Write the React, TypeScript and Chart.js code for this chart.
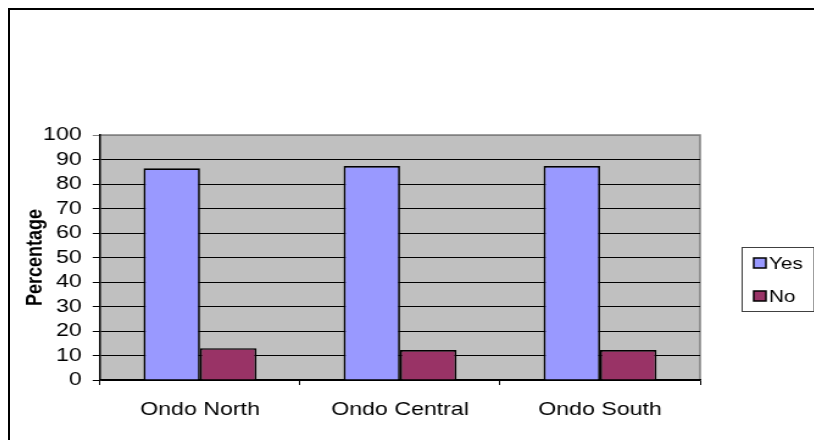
import React, { useEffect, useRef } from "react";
import { Chart, registerables } from "chart.js";

Chart.register(...registerables);

const categories = ["Ondo North", "Ondo Central", "Ondo South"];
const seriesLabels = ["Yes", "No"];
const yesValues = [86.4, 87.3, 87.3];
const noValues = [13.0, 12.2, 12.2];
const seriesColors = ["#9999FF", "#993366"];
const yMin = 0;
const yMax = 100;
const yStep = 10;
const yAxisTitle = "Percentage";

const FONT = "'Liberation Sans', Arial, sans-serif";
const CANVAS_W = 666;
const CANVAS_H = 430;
const STRETCH = 812 / CANVAS_W;

const plotBackground = {
  id: "plotBackground",
  beforeDraw(chart: any) {
    const { ctx, chartArea } = chart;
    const { left, top, right, bottom } = chartArea;
    ctx.save();
    ctx.fillStyle = "#c0c0c0";
    ctx.fillRect(left, top, right - left, bottom - top);
    ctx.strokeStyle = "#808080";
    ctx.lineWidth = 1.5;
    ctx.beginPath();
    ctx.moveTo(left, top);
    ctx.lineTo(right, top);
    ctx.lineTo(right, bottom);
    ctx.stroke();
    ctx.restore();
  },
};

const boxLegend = {
  id: "boxLegend",
  afterDraw(chart: any) {
    const { ctx } = chart;
    const bx = 600;
    const by = 237;
    ctx.save();
    ctx.fillStyle = "#ffffff";
    ctx.fillRect(bx, by, 59, 64);
    ctx.strokeStyle = "#404040";
    ctx.lineWidth = 1;
    ctx.strokeRect(bx + 0.5, by + 0.5, 59, 64);
    const rows = [253, 286];
    chart.data.datasets.forEach((ds: any, i: number) => {
      const cy = rows[i];
      ctx.fillStyle = ds.backgroundColor;
      ctx.fillRect(610, cy - 5, 10, 10);
      ctx.strokeStyle = "#000";
      ctx.lineWidth = 1.5;
      ctx.strokeRect(610, cy - 5, 10, 10);
      ctx.fillStyle = "#000";
      ctx.font = `17px ${FONT}`;
      ctx.textBaseline = "middle";
      ctx.textAlign = "left";
      ctx.fillText(ds.label, 622.5, cy + 1);
    });
    ctx.restore();
  },
};

export default function App() {
  const ref = useRef<HTMLCanvasElement | null>(null);

  useEffect(() => {
    if (!ref.current) return;
    const chart = new Chart(ref.current, {
      type: "bar",
      data: {
        labels: categories,
        datasets: [
          {
            label: seriesLabels[0],
            data: yesValues,
            backgroundColor: seriesColors[0],
            borderColor: "#000",
            borderWidth: 1.7,
          },
          {
            label: seriesLabels[1],
            data: noValues,
            backgroundColor: seriesColors[1],
            borderColor: "#000",
            borderWidth: 1.7,
          },
        ],
      },
      options: {
        responsive: false,
        animation: false,
        devicePixelRatio: 1,
        layout: { padding: { left: 6, right: 100, top: 125, bottom: 0 } },
        datasets: { bar: { categoryPercentage: 0.565, barPercentage: 1 } },
        plugins: {
          legend: { display: false },
          tooltip: { enabled: false },
          title: { display: false },
        },
        scales: {
          x: {
            grid: {
              display: true,
              offset: true,
              drawOnChartArea: false,
              drawTicks: true,
              tickLength: 5,
              color: "#000",
              lineWidth: 1,
            },
            border: { display: true, color: "#000", width: 1.5 },
            ticks: {
              color: "#000",
              font: { family: FONT, size: 19 },
              padding: 13,
              maxRotation: 0,
            },
            afterFit(scale: any) {
              scale.height = 60;
            },
          },
          y: {
            min: yMin,
            max: yMax,
            grid: {
              color: (c: any) => (c.tick && c.tick.value === yMax ? "#808080" : "#000"),
              lineWidth: 1,
              tickLength: 6,
              drawTicks: true,
            },
            border: { display: true, color: "#000", width: 1.5 },
            ticks: {
              stepSize: yStep,
              autoSkip: false,
              color: "#000",
              font: { family: FONT, size: 19 },
              padding: 9,
            },
            title: {
              display: true,
              text: yAxisTitle,
              color: "#000",
              font: { family: FONT, size: 18, weight: "bold" },
              padding: { top: 4, bottom: 4 },
            },
            afterFit(scale: any) {
              scale.width = 67.8;
            },
          },
        },
      },
      plugins: [plotBackground, boxLegend],
    });
    return () => chart.destroy();
  }, []);

  return (
    <div
      style={{
        width: 812,
        height: CANVAS_H,
        borderTop: "2px solid #000",
        borderLeft: "2px solid #000",
        overflow: "hidden",
        background: "#fff",
      }}
    >
      <div
        style={{
          width: CANVAS_W,
          height: CANVAS_H,
          transform: `scaleX(${STRETCH})`,
          transformOrigin: "0 0",
        }}
      >
        <canvas
          ref={ref}
          width={CANVAS_W}
          height={CANVAS_H}
          style={{ display: "block" }}
        />
      </div>
    </div>
  );
}
